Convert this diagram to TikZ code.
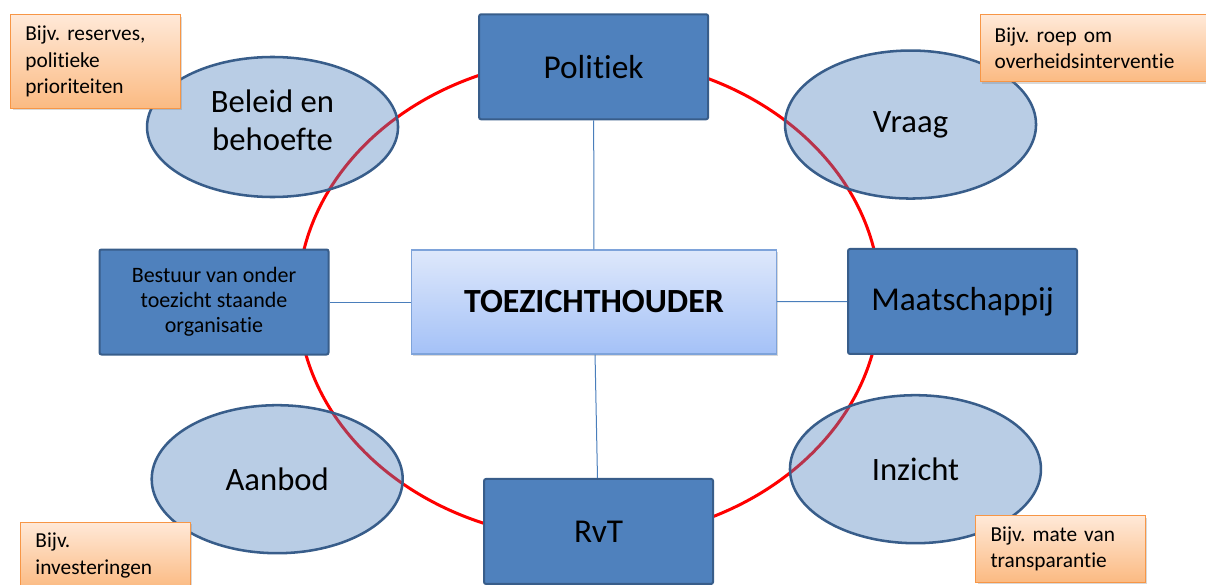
\documentclass[tikz,border=0pt]{standalone}
\usepackage{fontspec}
\setmainfont{Carlito}[RawFeature={-liga;-clig;-calt}]
\usetikzlibrary{shapes.geometric,shadows}
\frenchspacing

\definecolor{blokblauw}{HTML}{4F81BD}
\definecolor{blokrand}{HTML}{385D8A}
\definecolor{lijnblauw}{HTML}{4A7EBB}
\definecolor{kernboven}{HTML}{DEE8FB}
\definecolor{kernonder}{HTML}{A4C1F7}
\definecolor{kernrand}{HTML}{7EA3DA}
\definecolor{notitieboven}{HTML}{FFE9D8}
\definecolor{notitieonder}{HTML}{FBBA82}
\definecolor{notitierand}{HTML}{F79646}

\begin{document}
\begin{tikzpicture}[blok/.style={rectangle, draw=blokrand, line width=1.5pt, fill=blokblauw, rounded corners=1.5pt, minimum width=171.75pt, minimum height=78.75pt, align=center, font=\fontsize{25}{30}\selectfont}, ovaal/.style={ellipse, draw=blokrand, line width=1.9pt, fill=blokblauw, fill opacity=0.4, text opacity=1, minimum width=188.25pt, minimum height=111pt, align=center, font=\fontsize{24.5}{29}\selectfont}, kern/.style={rectangle, draw=kernrand, line width=0.9pt, top color=kernboven, bottom color=kernonder, drop shadow={shadow xshift=1pt, shadow yshift=-1.5pt, opacity=0.3}, minimum width=273.25pt, minimum height=78pt, font=\fontsize{25.4}{30}\selectfont\bfseries}, notitie/.style={rectangle, draw=notitierand, line width=0.75pt, top color=notitieboven, bottom color=notitieonder, drop shadow={shadow xshift=1.5pt, shadow yshift=-1.5pt, opacity=0.3}, align=left, inner xsep=11pt, text width=105pt, minimum height=50pt, font=\fontsize{16}{20}\selectfont}, verbinding/.style={draw=lijnblauw, line width=0.75pt}, kring/.style={draw=red, line width=2.25pt}]
  \useasboundingbox (0pt, 0pt) rectangle (904.5pt, -438.75pt);
  \clip (0pt, 0pt) rectangle (904.5pt, -438.75pt);
  \draw[kring] (441.75pt, -223.9pt) ellipse (218.25pt and 180.75pt);
  \draw (445.5pt, -226.5pt)node[kern](0){TOEZICHTHOUDER};
  \draw (445.2pt, -50.1pt)node[blok](1){Politiek};
  \draw (721.9pt, -226.1pt)node[blok](2){Maatschappij};
  \draw (448.9pt, -398.6pt)node[blok](3){RvT};
  \draw (160.5pt, -226.5pt)node[blok, font=\fontsize{16.5}{18.75}\selectfont](4){Bestuur van onder\\toezicht staande\\organisatie};
  \draw (204.4pt, -95.25pt)node[ovaal, minimum height=105pt](5){Beleid en\\behoefte\\[-18.5pt]};
  \draw (682.9pt, -93.4pt)node[ovaal](6){Vraag};
  \draw (207.9pt, -359.4pt)node[ovaal](7){Aanbod};
  \draw (686.6pt, -351.9pt)node[ovaal](8){Inzicht};
  \draw (71.5pt, -46.1pt)node[notitie, minimum height=70.2pt](9){Bijv. reserves,\\politieke\\prioriteiten};
  \draw (822.0pt, -36.2pt)node[notitie, text width=152pt](10){Bijv. roep om\\overheidsinterventie};
  \draw (79.1pt, -416.6pt)node[notitie](11){Bijv.\\investeringen};
  \draw (795.4pt, -411.75pt)node[notitie](12){Bijv. mate van\\transparantie};
  \path[verbinding] (1) edge (0);
  \path[verbinding] (4) edge (0);
  \path[verbinding] (0) edge (2);
  \path[verbinding] (0) edge (3);
\end{tikzpicture}
\end{document}
